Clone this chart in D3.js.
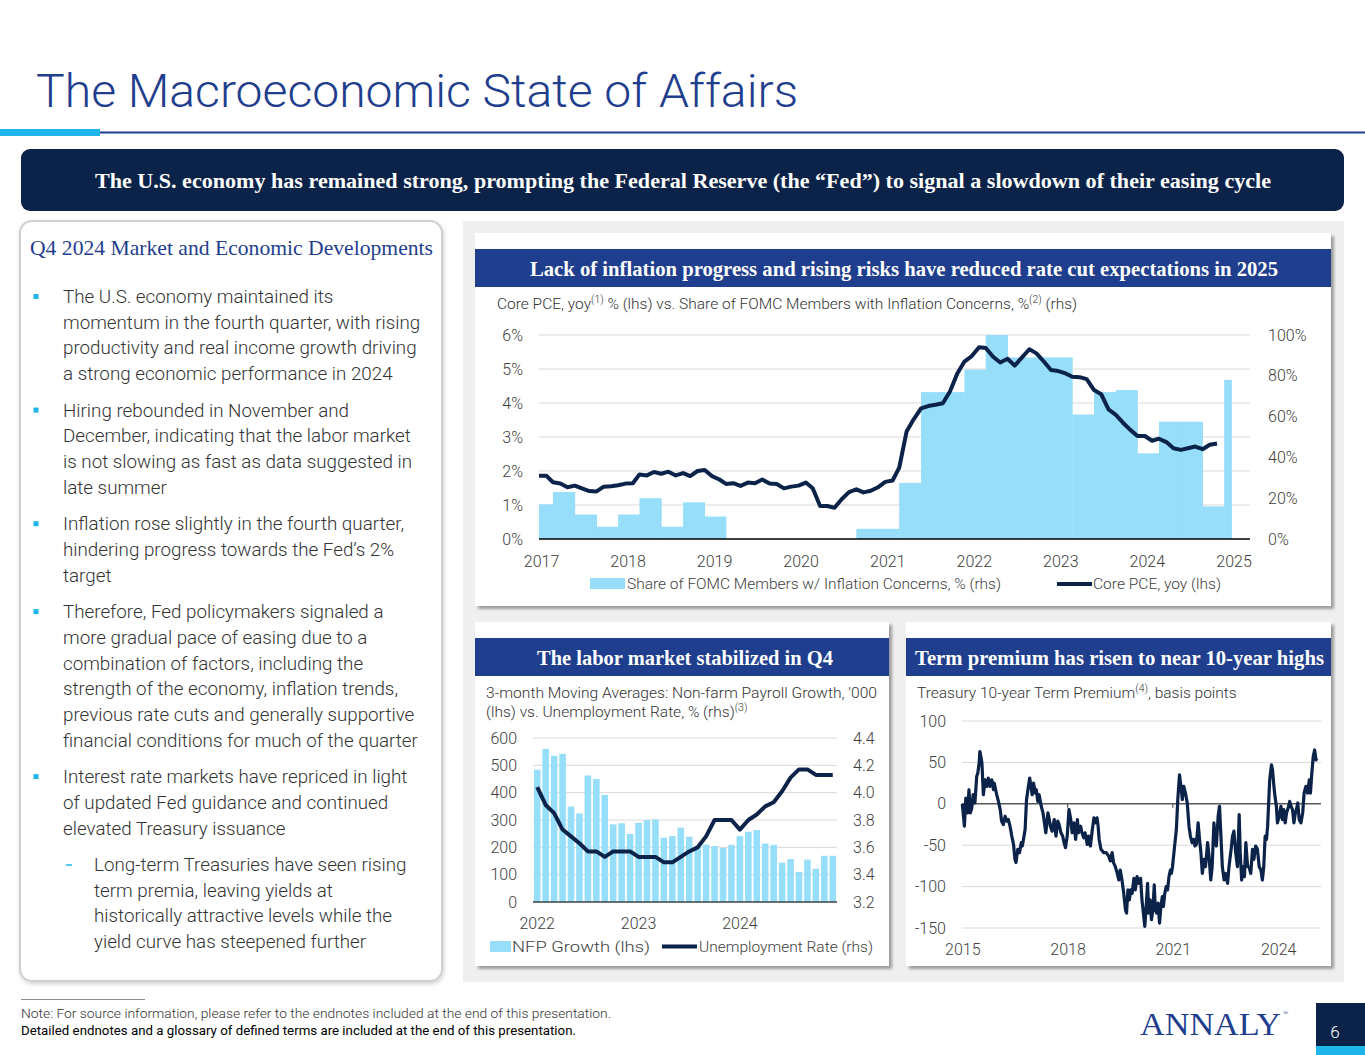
<!DOCTYPE html>
<html><head><meta charset="utf-8">
<script src="https://cdn.jsdelivr.net/npm/d3@7"></script>
<style>
html,body{margin:0;padding:0;background:#fff;overflow:hidden}
svg{display:block;font-family:Roboto,"Noto Sans",sans-serif}
</style></head><body>
<svg id="slide" width="1365" height="1055"></svg>
<script>
// ---------------- DATA ----------------
// Chart 1: Core PCE yoy (%), monthly from Jan 2017
const pceStart = "2017-01";
const pceValues = [
 1.86,1.86,1.67,1.63,1.52,1.57,1.49,1.41,1.40,1.54,1.55,1.58,
 1.63,1.64,1.90,1.87,1.97,1.92,1.98,1.87,1.94,1.85,2.00,2.03,
 1.85,1.75,1.62,1.64,1.56,1.66,1.64,1.75,1.63,1.62,1.49,1.54,
 1.57,1.66,1.49,0.97,0.97,0.92,1.17,1.38,1.46,1.37,1.42,1.52,
 1.68,1.72,2.10,3.16,3.52,3.84,3.91,3.95,3.99,4.34,4.87,5.22,
 5.38,5.64,5.62,5.36,5.19,5.30,5.10,5.34,5.58,5.46,5.22,4.97,
 4.94,4.87,4.77,4.76,4.70,4.38,4.26,3.81,3.65,3.42,3.21,3.03,
 3.03,2.89,2.95,2.85,2.67,2.62,2.67,2.72,2.64,2.77,2.81];
// Share of FOMC members with inflation concerns (%), by SEP meeting period
const fomcStarts = ["2017-01","2017-03","2017-06","2017-09","2017-12","2018-03","2018-06","2018-09","2018-12",
 "2019-03","2019-06","2019-09","2019-12","2020-03","2020-06","2020-09","2020-12","2021-03","2021-06","2021-09",
 "2021-12","2022-03","2022-06","2022-09","2022-12","2023-03","2023-06","2023-09","2023-12","2024-03","2024-06",
 "2024-09","2024-12"];
const fomcEnd = "2025-01";
const fomcValues = [17,23,12,6,12,20,6,18,11,0,0,0,0,0,0,5,5,27.5,72,72,83,100,89,89,89,61,72,73,42,57.5,57.5,16,78];
const c1Years = [2017,2018,2019,2020,2021,2022,2023,2024,2025];
const c1LeftTicks = [0,1,2,3,4,5,6];
const c1RightTicks = [0,20,40,60,80,100];

// Chart 2: 3m MA NFP growth ('000) and unemployment rate (%), monthly Jan 2022 - Dec 2024
const nfpStart = "2022-01";
const nfpValues = [484,560,535,542,349,324,463,450,392,284,288,249,
 290,300,302,235,241,272,239,205,210,205,198,209,
 241,257,263,214,209,144,157,110,155,122,169,169];
const urValues = [4.04,3.91,3.85,3.73,3.68,3.63,3.57,3.57,3.53,3.57,3.57,3.57,
 3.53,3.53,3.53,3.49,3.49,3.53,3.57,3.60,3.68,3.80,3.80,3.80,
 3.73,3.80,3.84,3.90,3.93,4.01,4.11,4.17,4.17,4.13,4.13,4.13];
const c2Years = ["2022","2023","2024"];
const c2LeftTicks = [0,100,200,300,400,500,600];
const c2RightTicks = [3.2,3.4,3.6,3.8,4.0,4.2,4.4];

// Chart 3: Treasury 10y term premium (bp)
const tpBaseYear = 2015;
const tpYearOffsets = [0,.06,.10,.15,.19,.23,.27,.31,.36,.41,.44,.48,.50,.53,.56,.60,.65,.70,.74,.79,
 .84,.89,.91,.98,1.03,1.08,1.12,1.17,1.22,1.27,1.31,1.36,1.41,1.46,1.50,1.53,1.58,1.63,1.68,1.71,
 1.76,1.79,1.83,1.87,1.92,1.96,1.99,2.03,2.08,2.11,2.15,2.19,2.25,2.30,2.34,2.38,2.44,2.48,2.51,2.56,
 2.62,2.67,2.72,2.76,2.81,2.86,2.90,2.94,2.99,3.04,3.09,3.13,3.18,3.23,3.28,3.31,3.37,3.41,3.46,3.50,
 3.56,3.60,3.65,3.70,3.75,3.80,3.84,3.87,3.90,3.95,4.03,4.10,4.17,4.22,4.27,4.31,4.36,4.41,4.46,4.50,
 4.55,4.60,4.65,4.68,4.72,4.76,4.80,4.84,4.89,4.93,4.98,5.03,5.08,5.12,5.16,5.20,5.24,5.28,5.31,5.35,
 5.39,5.43,5.47,5.50,5.54,5.58,5.62,5.66,5.70,5.73,5.77,5.81,5.85,5.89,5.93,5.96,5.99,6.04,6.10,6.14,
 6.19,6.23,6.27,6.31,6.36,6.41,6.46,6.50,6.55,6.60,6.63,6.67,6.72,6.76,6.80,6.84,6.89,6.93,6.99,7.03,
 7.08,7.12,7.17,7.20,7.24,7.29,7.33,7.37,7.41,7.46,7.50,7.56,7.60,7.66,7.70,7.74,7.79,7.84,7.89,7.92,
 7.96,8.00,8.04,8.08,8.13,8.17,8.22,8.27,8.31,8.36,8.41,8.46,8.51,8.55,8.59,8.63,8.67,8.70,8.76,8.81,
 8.84,8.88,8.91,8.95,8.98,9.03,9.08,9.12,9.16,9.20,9.24,9.30,9.33,9.37,9.41,9.45,9.49,9.52,9.56,9.60,
 9.65,9.70,9.74,9.79,9.84,9.89,9.92,9.96,10.00,10.04,10.08,10.10];
const tpValues = [0,-27,7,-11,17,-11,-5,11,1,33,37,49,63,57,49,11,29,21,31,21,
 29,17,25,11,3,-7,-21,-25,-15,-21,-19,-27,-39,-49,-67,-71,-55,-59,-47,-51,
 -39,-31,5,17,31,21,11,25,13,17,3,11,-3,-11,-23,-35,-11,-19,-27,-33,
 -19,-39,-21,-25,-35,-39,-47,-53,-39,-7,-19,-35,-23,-43,-19,-35,-27,-35,-41,-35,
 -49,-39,-51,-33,-17,-23,-17,-27,-43,-55,-59,-59,-63,-69,-59,-71,-76,-83,-92,-80,
 -92,-108,-128,-132,-104,-116,-104,-108,-90,-104,-88,-96,-90,-116,-132,-148,-124,-96,-132,-116,
 -140,-128,-98,-128,-132,-120,-144,-124,-112,-124,-108,-100,-104,-88,-80,-84,-76,-55,-31,5,
 35,21,5,21,13,1,-27,-39,-47,-43,-51,-49,-23,-43,-59,-84,-67,-76,-47,-63,
 -92,-76,-23,-39,-51,-15,-3,-39,-76,-92,-84,-96,-76,-55,-39,-33,-59,-76,-13,-59,
 -92,-76,-88,-47,-76,-76,-84,-55,-67,-51,-55,-76,-80,-92,-76,-39,-43,-27,29,47,
 41,21,9,-3,-23,-15,-3,-19,-7,-23,-11,-3,3,-3,-7,-23,-11,-7,1,-19,
 -23,-11,13,21,13,29,13,37,57,65,53,55];
const c3Years = [2015,2018,2021,2024];
const c3Ticks = [-150,-100,-50,0,50,100];

// Text content
const bullets = [
 {level:0, lines:["The U.S. economy maintained its","momentum in the fourth quarter, with rising","productivity and real income growth driving","a strong economic performance in 2024"]},
 {level:0, lines:["Hiring rebounded in November and","December, indicating that the labor market","is not slowing as fast as data suggested in","late summer"]},
 {level:0, lines:["Inflation rose slightly in the fourth quarter,","hindering progress towards the Fed\u2019s 2%","target"]},
 {level:0, lines:["Therefore, Fed policymakers signaled a","more gradual pace of easing due to a","combination of factors, including the","strength of the economy, inflation trends,","previous rate cuts and generally supportive","financial conditions for much of the quarter"]},
 {level:0, lines:["Interest rate markets have repriced in light","of updated Fed guidance and continued","elevated Treasury issuance"]},
 {level:1, lines:["Long-term Treasuries have seen rising","term premia, leaving yields at","historically attractive levels while the","yield curve has steepened further"]}
];

// ---------------- DRAW ----------------
const NAVY="#0c2349", BLUE="#1f3e8e", CYAN="#1fb5ea", BAR="#97defb", GRID="#d9d9d9", TXT="#404040";
const SERIF='"Liberation Serif","Times New Roman",serif';
const SANS='Roboto,"Noto Sans",sans-serif';
const svg = d3.select("#slide");
const defs = svg.append("defs");
const f = defs.append("filter").attr("id","sh").attr("x","-5%").attr("y","-5%").attr("width","115%").attr("height","120%");
f.append("feDropShadow").attr("dx",3).attr("dy",3).attr("stdDeviation",1.8).attr("flood-color","#000").attr("flood-opacity",0.35);
const f2 = defs.append("filter").attr("id","sh2").attr("x","-5%").attr("y","-5%").attr("width","115%").attr("height","120%");
f2.append("feDropShadow").attr("dx",1).attr("dy",2).attr("stdDeviation",2).attr("flood-color","#000").attr("flood-opacity",0.18);

// Title
svg.append("text").attr("x",36).attr("y",107).attr("font-size",47).attr("font-weight",300)
  .attr("fill",BLUE).attr("textLength",762).attr("lengthAdjust","spacingAndGlyphs")
  .text("The Macroeconomic State of Affairs");
svg.append("line").attr("x1",100).attr("x2",1365).attr("y1",132.5).attr("y2",132.5).attr("stroke",BLUE).attr("stroke-width",2);
svg.append("rect").attr("x",0).attr("y",129).attr("width",100).attr("height",7).attr("fill",CYAN);

// Banner
svg.append("rect").attr("x",21).attr("y",149).attr("width",1323).attr("height",62).attr("rx",9).attr("fill",NAVY);
svg.append("text").attr("x",683).attr("y",188).attr("text-anchor","middle").style("font-family",SERIF)
  .attr("font-weight",700).attr("font-size",22).attr("fill","#fff")
  .attr("textLength",1176).attr("lengthAdjust","spacingAndGlyphs")
  .text("The U.S. economy has remained strong, prompting the Federal Reserve (the \u201cFed\u201d) to signal a slowdown of their easing cycle");

// Left panel
svg.append("rect").attr("x",20).attr("y",221).attr("width",422).attr("height",760).attr("rx",12)
  .attr("fill","#fff").attr("stroke","#cfcfcf").attr("stroke-width",2).attr("filter","url(#sh2)");
svg.append("text").attr("x",30).attr("y",255).style("font-family",SERIF).attr("font-size",21).attr("fill",BLUE)
  .attr("textLength",403).attr("lengthAdjust","spacingAndGlyphs")
  .text("Q4 2024 Market and Economic Developments");
{
  let y = 303; const lh = 25.7, gap = 10.8;
  bullets.forEach((b,bi)=>{
    if (bi>0) y += gap;
    const tx = b.level ? 94 : 63;
    if (b.level) svg.append("line").attr("x1",66).attr("x2",72).attr("y1",y-6).attr("y2",y-6).attr("stroke",CYAN).attr("stroke-width",1.5);
    else svg.append("rect").attr("x",33.5).attr("y",y-9).attr("width",5).attr("height",5).attr("fill",CYAN);
    b.lines.forEach((ln,li)=>{
      svg.append("text").attr("x",tx).attr("y",y).attr("font-size",18.8).attr("font-weight",300).attr("fill","#333").text(ln);
      if (li < b.lines.length-1) y += lh;
    });
    y += lh;
  });
}

// Grey chart area and cards
svg.append("rect").attr("x",463).attr("y",221).attr("width",881).attr("height",761).attr("fill","#efefef");
function card(x,y,w,h,title,tl,tcx){
  svg.append("rect").attr("x",x).attr("y",y).attr("width",w).attr("height",h).attr("fill","#fff").attr("filter","url(#sh)");
  svg.append("rect").attr("x",x).attr("y",y+16).attr("width",w).attr("height",38).attr("fill",BLUE);
  svg.append("text").attr("x",tcx).attr("y",y+43).attr("text-anchor","middle").style("font-family",SERIF)
    .attr("font-weight",700).attr("font-size",21).attr("fill","#fff")
    .attr("textLength",tl).attr("lengthAdjust","spacingAndGlyphs").text(title);
}
card(475,233,856,373,"Lack of inflation progress and rising risks have reduced rate cut expectations in 2025",748,904);
card(475,622,414,344,"The labor market stabilized in Q4",296,685);
card(906,622,425,344,"Term premium has risen to near 10-year highs",409,1119.5);

function supText(x,y,parts,size){
  const t = svg.append("text").attr("x",x).attr("y",y).attr("font-size",size).attr("font-weight",300).attr("fill","#333");
  parts.forEach(p=>{
    if (p.sup) t.append("tspan").attr("dy",-6).attr("font-size",size*0.68).text(p.sup);
    else t.append("tspan").attr("dy",p.after?6:0).text(p.t);
  });
  return t;
}
function styleAxis(g,size){
  g.select(".domain").remove();
  g.attr("font-family",SANS);
  g.selectAll("text").attr("font-weight",300).attr("font-size",size).attr("fill",TXT);
}

// ---------- Chart 1 ----------
{
  const pt = d3.timeParse("%Y-%m");
  const x = d3.scaleTime().domain([new Date(2017,0,1), new Date(2025,2,20)]).range([539,1250]);
  const yL = d3.scaleLinear().domain([0,6]).range([539,335]);
  const yR = d3.scaleLinear().domain([0,100]).range([539,335]);
  supText(497,309,[{t:"Core PCE, yoy"},{sup:"(1)"},{t:" % (lhs) vs. Share of FOMC Members with Inflation Concerns, %",after:true},{sup:"(2)"},{t:" (rhs)",after:true}],15.5);
  svg.append("g").selectAll("line").data(c1LeftTicks.slice(1)).join("line")
    .attr("x1",539).attr("x2",1250).attr("y1",d=>yL(d)).attr("y2",d=>yL(d)).attr("stroke",GRID).attr("stroke-width",1);
  const bars = fomcStarts.map((s,i)=>({s:pt(s), e:pt(i<fomcStarts.length-1?fomcStarts[i+1]:fomcEnd), v:fomcValues[i]}));
  svg.append("g").selectAll("rect").data(bars.filter(d=>d.v>0)).join("rect")
    .attr("x",d=>x(d.s)).attr("width",d=>x(d.e)-x(d.s)+0.4)
    .attr("y",d=>yR(d.v)).attr("height",d=>yR(0)-yR(d.v)).attr("fill",BAR);
  svg.append("line").attr("x1",539).attr("x2",1250).attr("y1",539).attr("y2",539).attr("stroke","#000").attr("stroke-width",1.3);
  const s0 = pt(pceStart);
  const pce = pceValues.map((v,i)=>({d:d3.timeMonth.offset(s0,i), v}));
  svg.append("path").datum(pce).attr("fill","none").attr("stroke",NAVY).attr("stroke-width",4).attr("stroke-linejoin","round")
    .attr("d", d3.line().x(d=>x(d.d)).y(d=>yL(d.v)));
  const gl = svg.append("g").attr("transform","translate(539,0)")
    .call(d3.axisLeft(yL).tickValues(c1LeftTicks).tickFormat(d=>d+"%").tickSize(0).tickPadding(16));
  styleAxis(gl,16);
  const gr = svg.append("g").attr("transform","translate(1250,0)")
    .call(d3.axisRight(yR).tickValues(c1RightTicks).tickFormat(d=>d+"%").tickSize(0).tickPadding(18));
  styleAxis(gr,16);
  const gb = svg.append("g").attr("transform","translate(0,539)")
    .call(d3.axisBottom(x).tickValues(c1Years.map(yv=>new Date(yv,0,1))).tickFormat(d3.timeFormat("%Y")).tickSize(0).tickPadding(17));
  styleAxis(gb,16);
  gb.selectAll("text").attr("dx",2);
  // legend
  svg.append("rect").attr("x",590).attr("y",578).attr("width",35).attr("height",11).attr("fill",BAR);
  svg.append("text").attr("x",627).attr("y",589).attr("font-size",15).attr("font-weight",300).attr("fill",TXT)
    .attr("textLength",374).attr("lengthAdjust","spacingAndGlyphs").text("Share of FOMC Members w/ Inflation Concerns, % (rhs)");
  svg.append("line").attr("x1",1057).attr("x2",1092).attr("y1",584).attr("y2",584).attr("stroke",NAVY).attr("stroke-width",4);
  svg.append("text").attr("x",1093).attr("y",589).attr("font-size",15).attr("font-weight",300).attr("fill",TXT)
    .attr("textLength",128).attr("lengthAdjust","spacingAndGlyphs").text("Core PCE, yoy (lhs)");
}

// ---------- Chart 2 ----------
{
  const pt = d3.timeParse("%Y-%m");
  const s0 = pt(nfpStart);
  const months = nfpValues.map((v,i)=>d3.timeFormat("%Y-%m")(d3.timeMonth.offset(s0,i)));
  const x = d3.scaleBand().domain(months).range([533,837]).paddingInner(0.22).paddingOuter(0.11);
  const yL = d3.scaleLinear().domain([0,600]).range([902,738]);
  const yR = d3.scaleLinear().domain([3.2,4.4]).range([902,738]);
  svg.append("text").attr("x",486).attr("y",698).attr("font-size",15.2).attr("font-weight",300).attr("fill","#333")
    .attr("textLength",391).attr("lengthAdjust","spacingAndGlyphs").text("3-month Moving Averages: Non-farm Payroll Growth, '000");
  supText(486,717,[{t:"(lhs) vs. Unemployment Rate, % (rhs)"},{sup:"(3)"}],15.5);
  svg.append("g").selectAll("line").data(c2LeftTicks.slice(1)).join("line")
    .attr("x1",533).attr("x2",837).attr("y1",d=>yL(d)).attr("y2",d=>yL(d)).attr("stroke",GRID);
  svg.append("g").selectAll("rect").data(nfpValues).join("rect")
    .attr("x",(d,i)=>x(months[i])).attr("width",x.bandwidth())
    .attr("y",d=>yL(d)).attr("height",d=>yL(0)-yL(d)).attr("fill",BAR);
  svg.append("line").attr("x1",533).attr("x2",837).attr("y1",902).attr("y2",902).attr("stroke","#404040").attr("stroke-width",1.3);
  svg.append("path").datum(urValues).attr("fill","none").attr("stroke",NAVY).attr("stroke-width",4).attr("stroke-linejoin","round")
    .attr("d", d3.line().x((d,i)=>x(months[i])+x.bandwidth()/2).y(d=>yR(d)));
  const gl = svg.append("g").attr("transform","translate(533,0)")
    .call(d3.axisLeft(yL).tickValues(c2LeftTicks).tickSize(0).tickPadding(16));
  styleAxis(gl,16);
  const gr = svg.append("g").attr("transform","translate(837,0)")
    .call(d3.axisRight(yR).tickValues(c2RightTicks).tickFormat(d3.format(".1f")).tickSize(0).tickPadding(16));
  styleAxis(gr,16);
  const gb = svg.append("g").attr("transform","translate(0,902)")
    .call(d3.axisBottom(x).tickValues(c2Years.map(yv=>yv+"-01")).tickFormat(d=>d.slice(0,4)).tickSize(0).tickPadding(16));
  styleAxis(gb,16);
  svg.append("rect").attr("x",490).attr("y",941).attr("width",21).attr("height",11).attr("fill",BAR);
  svg.append("text").attr("x",512).attr("y",952).attr("font-size",15).attr("font-weight",300).attr("fill",TXT)
    .attr("textLength",138).attr("lengthAdjust","spacingAndGlyphs").text("NFP Growth (lhs)");
  svg.append("line").attr("x1",662).attr("x2",697).attr("y1",946.5).attr("y2",946.5).attr("stroke",NAVY).attr("stroke-width",4);
  svg.append("text").attr("x",699).attr("y",952).attr("font-size",15).attr("font-weight",300).attr("fill",TXT)
    .attr("textLength",174).attr("lengthAdjust","spacingAndGlyphs").text("Unemployment Rate (rhs)");
}

// ---------- Chart 3 ----------
{
  const x = d3.scaleLinear().domain([2015,2025.25]).range([962.3,1322]);
  const y = d3.scaleLinear().domain([-150,100]).range([928,721]);
  supText(917,698,[{t:"Treasury 10-year Term Premium"},{sup:"(4)"},{t:", basis points",after:true}],15.5);
  svg.append("g").selectAll("line").data(c3Ticks.filter(d=>d!==0)).join("line")
    .attr("x1",962).attr("x2",1321).attr("y1",d=>y(d)).attr("y2",d=>y(d)).attr("stroke",GRID);
  svg.append("line").attr("x1",962).attr("x2",1321).attr("y1",y(0)).attr("y2",y(0)).attr("stroke","#595959").attr("stroke-width",1.6);
  svg.append("g").selectAll("line").data([2018,2021]).join("line")
    .attr("x1",d=>x(d)).attr("x2",d=>x(d)).attr("y1",y(0)).attr("y2",y(0)+4).attr("stroke","#595959").attr("stroke-width",1.2);
  const pts = tpValues.map((v,i)=>({t:tpBaseYear+tpYearOffsets[i], v}));
  svg.append("path").datum(pts).attr("fill","none").attr("stroke",NAVY).attr("stroke-width",3.2).attr("stroke-linejoin","round")
    .attr("d", d3.line().x(d=>x(d.t)).y(d=>y(d.v)));
  const gl = svg.append("g").attr("transform","translate(962,0)")
    .call(d3.axisLeft(y).tickValues(c3Ticks).tickFormat(d=>String(d)).tickSize(0).tickPadding(16));
  styleAxis(gl,16);
  const gb = svg.append("g").attr("transform","translate(0,928)")
    .call(d3.axisBottom(x).tickValues(c3Years).tickFormat(d=>String(d)).tickSize(0).tickPadding(16));
  styleAxis(gb,16);
}

// Footer
svg.append("line").attr("x1",21).attr("x2",145).attr("y1",999.5).attr("y2",999.5).attr("stroke","#8c8c8c").attr("stroke-width",1);
svg.append("text").attr("x",21).attr("y",1018).attr("font-size",13).attr("font-weight",300).attr("fill","#333")
  .attr("textLength",590).attr("lengthAdjust","spacingAndGlyphs")
  .text("Note: For source information, please refer to the endnotes included at the end of this presentation.");
svg.append("text").attr("x",21).attr("y",1035).attr("font-size",13).attr("font-weight",400).attr("fill","#000")
  .attr("textLength",555).attr("lengthAdjust","spacingAndGlyphs")
  .text("Detailed endnotes and a glossary of defined terms are included at the end of this presentation.");
svg.append("text").attr("x",1140).attr("y",1035).style("font-family",SERIF).attr("font-size",32).attr("fill",BLUE)
  .attr("textLength",141).attr("lengthAdjust","spacingAndGlyphs").text("ANNALY");
svg.append("text").attr("x",1283).attr("y",1015).style("font-family",SERIF).attr("font-size",7).attr("fill",BLUE).text("\u00ae");
svg.append("rect").attr("x",1316).attr("y",1003).attr("width",49).attr("height",43).attr("fill",NAVY);
svg.append("rect").attr("x",1316).attr("y",1046).attr("width",49).attr("height",9).attr("fill",CYAN);
svg.append("text").attr("x",1335).attr("y",1038).attr("text-anchor","middle").attr("font-size",17).attr("font-weight",300).attr("fill","#fff").text("6");
</script>
</body></html>
